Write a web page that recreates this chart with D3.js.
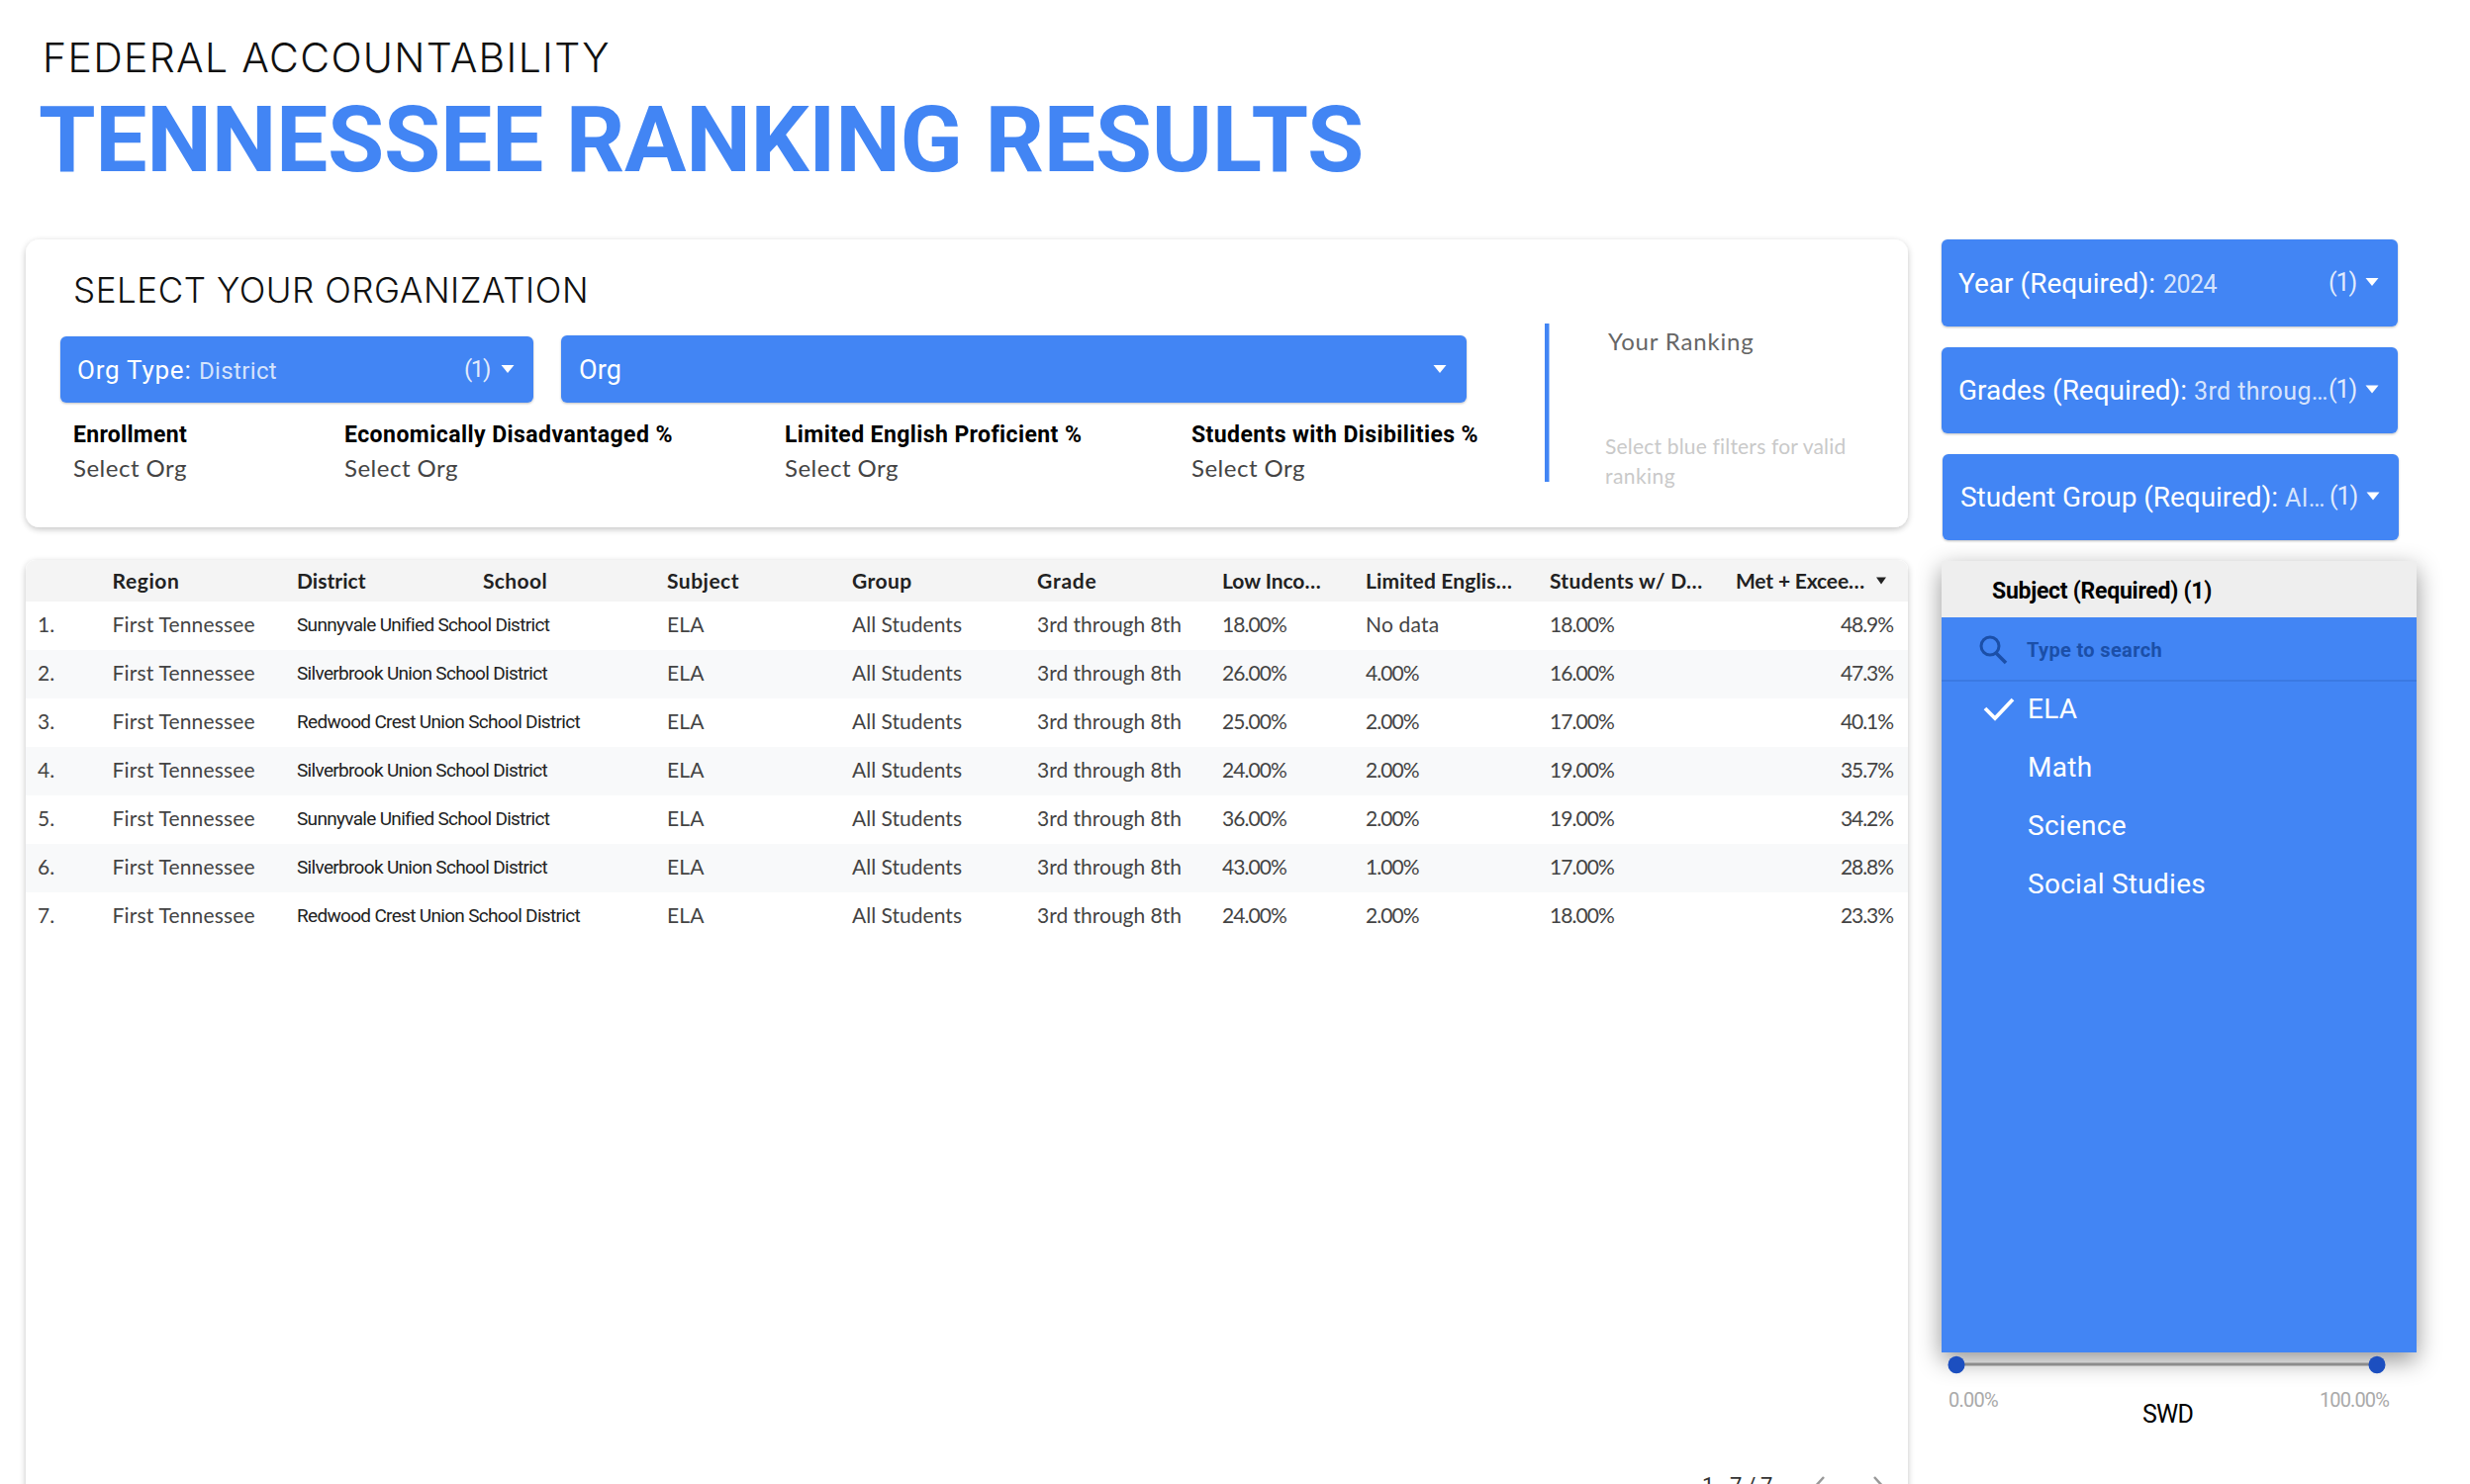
<!DOCTYPE html>
<html><head><meta charset="utf-8">
<script src="https://cdn.jsdelivr.net/npm/d3@7"></script>
<style>html,body{margin:0;padding:0;background:#fff;overflow:hidden}svg{display:block}</style>
</head><body><div id="c"></div>
<script>
// ---- data ----
const columns=["Region","District","School","Subject","Group","Grade","Low Inco…","Limited Englis…","Students w/ D…","Met + Excee…"];
const ranks=[1,2,3,4,5,6,7];
const regions=["First Tennessee","First Tennessee","First Tennessee","First Tennessee","First Tennessee","First Tennessee","First Tennessee"];
const districts=["Sunnyvale Unified School District","Silverbrook Union School District","Redwood Crest Union School District","Silverbrook Union School District","Sunnyvale Unified School District","Silverbrook Union School District","Redwood Crest Union School District"];
const subjects=["ELA","ELA","ELA","ELA","ELA","ELA","ELA"];
const groups=["All Students","All Students","All Students","All Students","All Students","All Students","All Students"];
const grades=["3rd through 8th","3rd through 8th","3rd through 8th","3rd through 8th","3rd through 8th","3rd through 8th","3rd through 8th"];
const lowIncome=[18,26,25,24,36,43,24];
const limitedEnglish=[null,4,2,2,2,1,2];
const disabilities=[18,16,17,19,19,17,18];
const metExceed=[48.9,47.3,40.1,35.7,34.2,28.8,23.3];
const subjectOptions=["ELA","Math","Science","Social Studies"];
const orgStats=["Enrollment","Economically Disadvantaged %","Limited English Proficient %","Students with Disibilities %"];
const sliderDomain=[0,100];

// ---- layout ----
const BLUE="#4285f4",ROBOTO="Roboto, sans-serif",BODY="Lato, sans-serif",HEAD="Inter, sans-serif";
const columnX=[113.5,300,488,674,861,1048,1235,1380,1566,1754];
const columnW=[68,69.5,65,73,60.6,60.6,100,148,155,130];
const x=d3.scaleOrdinal().domain(columns).range(columnX);
const w=d3.scaleOrdinal().domain(columns).range(columnW);
const y=d3.scaleBand().domain(ranks).range([608,951]);
const svg=d3.select("#c").append("svg").attr("width",2496).attr("height",1500).attr("viewBox","0 0 2496 1500");
const defs=svg.append("defs");
function shadow(id,dy,blur,op){
  const f=defs.append("filter").attr("id",id).attr("x","-10%").attr("y","-10%").attr("width","120%").attr("height","120%");
  f.append("feDropShadow").attr("dx",0).attr("dy",dy).attr("stdDeviation",blur).attr("flood-color","#000").attr("flood-opacity",op);
}
shadow("card",2,3,0.24);shadow("btn",1,1,0.25);shadow("panel",8,12,0.42);

const ctx=document.createElement("canvas").getContext("2d");
function spacing(font,ref,wd){ctx.font=font;const m=ctx.measureText(ref).width;return (wd-m)/ref.length;}
function T(s,px,py,o={}){
  const fam=o.fam||ROBOTO,size=o.size||24,wt=o.wt||400;
  const t=(o.g||svg).append("text").attr("x",px).attr("y",py).attr("dy","0.35em").text(s)
    .attr("font-family",fam).attr("font-size",size).attr("font-weight",wt).attr("fill",o.fill||"#000");
  if(o.anchor)t.attr("text-anchor",o.anchor);
  if(o.op!=null)t.attr("fill-opacity",o.op);
  let ls=o.ls;
  if(o.w!=null)ls=spacing(`${wt} ${size}px ${fam}`,s,o.w);
  if(ls!=null)t.style("letter-spacing",ls+"px");
  return t;
}
function tri(cx,cy,fill="#fff",tw=13,th=8){
  const p=d3.path();p.moveTo(cx-tw/2,cy-th/2);p.lineTo(cx+tw/2,cy-th/2);p.lineTo(cx,cy+th/2);p.closePath();
  svg.append("path").attr("d",p.toString()).attr("fill",fill);
}
function btn(x0,y0,x1,y1){svg.append("rect").attr("x",x0).attr("y",y0).attr("width",x1-x0).attr("height",y1-y0).attr("rx",6).attr("fill",BLUE).attr("filter","url(#btn)");}

// ---- heading ----
T("FEDERAL ACCOUNTABILITY",43,59,{fam:HEAD,size:41,wt:300,fill:"#111",w:574});
T("TENNESSEE RANKING RESULTS",39,140,{size:93,wt:700,fill:BLUE,w:1339});

// ---- organization card ----
svg.append("rect").attr("x",26).attr("y",242).attr("width",1902).attr("height",291).attr("rx",14).attr("fill","#fff").attr("filter","url(#card)");
T("SELECT YOUR ORGANIZATION",74,294,{fam:HEAD,size:35,wt:300,fill:"#111",w:521});
btn(61,340,539,407);btn(567,339,1482,407);
T("Org Type:",78,374,{size:26,fill:"#fff",w:116});
T("District",201,375,{size:24,fill:"#fff",op:.78,w:79});
T("(1)",469,373,{size:24,fill:"#fff",op:.85,w:26});tri(513,373);
T("Org",585,374,{size:27,fill:"#fff",w:43});tri(1455,373);

const statX=[74,348,793,1204],statW=[115,332,300,290];
orgStats.forEach((s,i)=>{
  T(s,statX[i],438.5,{size:23,wt:700,w:statW[i]});
  T("Select Org",statX[i],474,{fam:BODY,size:24,fill:"#444",w:115});
});
svg.append("rect").attr("x",1561).attr("y",327).attr("width",4.5).attr("height",160).attr("fill",BLUE);
T("Your Ranking",1625,346,{fam:BODY,size:24,fill:"#666",w:148});
T("Select blue filters for valid",1622,452,{fam:BODY,size:21,fill:"#c9c9c9",w:244});
T("ranking",1622,482,{fam:BODY,size:21,fill:"#c9c9c9",w:71});

// ---- right filters ----
const filterLabels=["Year (Required):","Grades (Required):","Student Group (Required):"];
const filterValues=["2024","3rd throug…","Al…"];
const fl=[[1962,2423,242,330,1979,199,2186,54,0],[1962,2423,351,438,1979,231,2217,136,-0.5],[1963,2424,459,546,1981,321,2309,41,-1]];
filterLabels.forEach((s,i)=>{
  const [a,b,c,d,tx,tw,vx,vw,off]=fl[i],cy=(c+d)/2;
  btn(a,c,b,d);
  T(s,tx,cy+0.5+off,{size:28,fill:"#fff",w:tw});
  T(filterValues[i],vx,cy+1.5+off,{size:25,fill:"#fff",op:.8,w:vw});
  T("(1)",a+391,cy-1,{size:25,fill:"#fff",op:.85,w:28});
  tri(a+435,cy-1);
});

// ---- table card ----
svg.append("rect").attr("x",26).attr("y",566).attr("width",1902).attr("height",1000).attr("rx",10).attr("fill","#fff").attr("filter","url(#card)");
const cp=defs.append("clipPath").attr("id","tc");cp.append("rect").attr("x",26).attr("y",566).attr("width",1902).attr("height",1000).attr("rx",10);
const table=svg.append("g").attr("clip-path","url(#tc)");
table.append("rect").attr("x",26).attr("y",566).attr("width",1902).attr("height",42).attr("fill","#f4f4f4");
table.selectAll("rect.stripe").data(ranks.filter(r=>r%2===0)).join("rect").attr("class","stripe")
  .attr("x",26).attr("width",1902).attr("y",d=>y(d)).attr("height",y.bandwidth()).attr("fill","#f8f9fa");

table.selectAll("text.h").data(columns).join("text").attr("class","h").text(d=>d)
  .attr("x",d=>x(d)).attr("y",588).attr("dy","0.35em")
  .attr("font-family",BODY).attr("font-size",21).attr("font-weight",700).attr("fill","#222")
  .style("letter-spacing",d=>spacing(`700 21px ${BODY}`,d,w(d))+"px");
tri(1901,587,"#222",10,7);

const bodyFont=`400 21px ${BODY}`;
const rLs=spacing(bodyFont,"First Tennessee",145);
const gLs=spacing(bodyFont,"3rd through 8th",146);
const aLs=spacing(bodyFont,"All Students",111);
const nLs=spacing(bodyFont,"18.00%",65);
const pLs=spacing(bodyFont,"48.9%",53);
const NO_DATA="No data";
const pct=d3.format(".2f");
const colData=[
  ["Region",regions,rLs],["Subject",subjects,rLs],["Group",groups,aLs],["Grade",grades,gLs],
  ["Low Inco…",lowIncome.map(v=>pct(v)+"%"),nLs],
  ["Limited Englis…",limitedEnglish.map(v=>v==null?NO_DATA:pct(v)+"%"),nLs],
  ["Students w/ D…",disabilities.map(v=>pct(v)+"%"),nLs]
];
const body=table.append("g").attr("font-family",BODY).attr("font-size",21).attr("fill","#444");
colData.forEach(([c,vals,ls])=>{
  body.append("g").selectAll("text").data(vals).join("text").text(d=>d)
    .style("letter-spacing",d=>(d===NO_DATA?rLs:ls)+"px")
    .attr("x",x(c)).attr("y",(d,i)=>y(ranks[i])+y.bandwidth()/2).attr("dy","0.3em");
});
body.append("g").selectAll("text").data(ranks).join("text").text(d=>d+".")
  .attr("x",38).attr("y",d=>y(d)+y.bandwidth()/2).attr("dy","0.3em");
body.append("g").style("letter-spacing",pLs+"px").selectAll("text").data(metExceed).join("text").text(d=>d.toFixed(1)+"%")
  .attr("x",1913).attr("text-anchor","end").attr("y",(d,i)=>y(ranks[i])+y.bandwidth()/2).attr("dy","0.3em");
const dLs=spacing(`400 19px ${ROBOTO}`,"Redwood Crest Union School District",286);
table.append("g").selectAll("text").data(districts).join("text").text(d=>d)
  .attr("x",x("District")).attr("y",(d,i)=>y(ranks[i])+y.bandwidth()/2).attr("dy","0.3em")
  .attr("font-family",ROBOTO).attr("font-size",19).attr("fill","#222").style("letter-spacing",dLs+"px");

T("1 - 7 / 7",1720,1501,{size:22,fill:"#333",w:71});
svg.append("path").attr("d","M1843 1493L1833 1504L1843 1515").attr("fill","none").attr("stroke","#999").attr("stroke-width",2.5);
svg.append("path").attr("d","M1894 1493L1904 1504L1894 1515").attr("fill","none").attr("stroke","#999").attr("stroke-width",2.5);

// ---- slider beneath the panel ----
const sx=d3.scaleLinear().domain(sliderDomain).range([1977,2402]);
T(d3.format(".2f")(sliderDomain[0])+"%",1969,1414.5,{size:20,fill:"#aaa",w:50});
T(d3.format(".2f")(sliderDomain[1])+"%",2344,1414.5,{size:20,fill:"#aaa",w:70});
T("SWD",2165,1429.5,{size:25,w:51});

// ---- subject panel ----
svg.append("rect").attr("x",1962).attr("y",567).attr("width",480).attr("height",800).attr("fill",BLUE).attr("filter","url(#panel)");
svg.append("rect").attr("x",1962).attr("y",567).attr("width",480).attr("height",57).attr("fill","#eeeeee");
T("Subject (Required) (1)",2013,597,{size:23,wt:700,w:222});
svg.append("circle").attr("cx",2011).attr("cy",653).attr("r",9).attr("fill","none").attr("stroke","#1b4fa8").attr("stroke-width",3);
svg.append("line").attr("x1",2017).attr("y1",660).attr("x2",2027).attr("y2",670).attr("stroke","#1b4fa8").attr("stroke-width",3.5);
T("Type to search",2048,656.5,{size:20,wt:700,fill:"#1b4fa8",w:137});
svg.append("line").attr("x1",1962).attr("x2",2442).attr("y1",688).attr("y2",688).attr("stroke","#3a76dc").attr("stroke-width",1.5);
const itemY=d3.scalePoint().domain(subjectOptions).range([716,893]);
svg.append("g").selectAll("text").data(subjectOptions).join("text").text(d=>d)
  .attr("x",2049).attr("y",d=>itemY(d)).attr("dy","0.36em").attr("font-family",ROBOTO).attr("font-size",28).attr("fill","#fff")
  .style("letter-spacing",spacing(`400 28px ${ROBOTO}`,"Social Studies",180)+"px");
svg.append("path").attr("d","M2006 716L2016 726L2034 707").attr("fill","none").attr("stroke","#fff").attr("stroke-width",3.8);

svg.append("line").attr("x1",sx(0)).attr("x2",sx(100)).attr("y1",1379).attr("y2",1379).attr("stroke","#8c8c8c").attr("stroke-width",3);
svg.append("g").selectAll("ellipse").data(sliderDomain).join("ellipse")
  .attr("cx",d=>sx(d)).attr("cy",1379.5).attr("rx",8.5).attr("ry",8.8).attr("fill","#1c4fc0");
</script></body></html>
